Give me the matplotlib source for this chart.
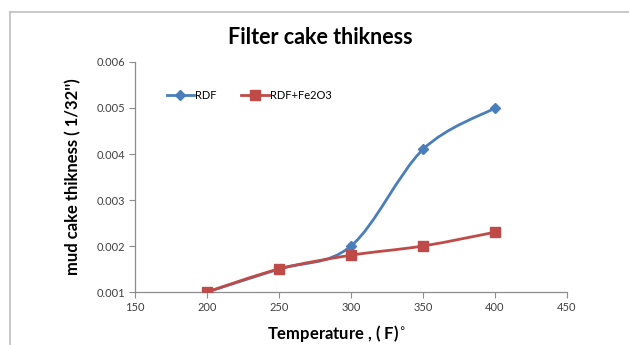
import numpy as np
import matplotlib
matplotlib.use("Agg")
import matplotlib.pyplot as plt
from matplotlib.path import Path
from matplotlib.patches import PathPatch
from matplotlib.lines import Line2D

temperature = [200, 250, 300, 350, 400]
rdf = [0.001, 0.0015, 0.002, 0.0041, 0.005]
rdf_fe2o3 = [0.001, 0.0015, 0.0018, 0.002, 0.0023]

x_ticks = [150, 200, 250, 300, 350, 400, 450]
y_ticks = [0.001, 0.002, 0.003, 0.004, 0.005, 0.006]

plt.rcParams['font.family'] = ['Lato', 'DejaVu Sans']


def smooth_path(xs, ys):
    # Excel-style smoothed line: cubic bezier through the points
    pts = np.column_stack([xs, ys]).astype(float)
    verts = [pts[0]]
    codes = [Path.MOVETO]
    n = len(pts)
    for i in range(n - 1):
        p0 = pts[i - 1] if i > 0 else pts[i]
        p1 = pts[i]
        p2 = pts[i + 1]
        p3 = pts[i + 2] if i + 2 < n else pts[i + 1]
        c1 = p1 + (p2 - p0) / 6.0
        c2 = p2 - (p3 - p1) / 6.0
        verts += [c1, c2, p2]
        codes += [Path.CURVE4] * 3
    return Path(verts, codes)


fig = plt.figure(figsize=(6.29, 3.45), dpi=100)
ax = fig.add_axes([0.2146, 0.1536, 0.6868, 0.6667])

blue = '#4A7EBB'
red = '#BE4B48'

for ys, col, mk, ms in [(rdf, blue, 'D', 5), (rdf_fe2o3, red, 's', 7)]:
    ax.add_patch(PathPatch(smooth_path(temperature, ys), facecolor='none',
                           edgecolor=col, lw=2.0, zorder=2))
    ax.plot(temperature, ys, ls='none', marker=mk, ms=ms, color=col, zorder=3)

# legend handles
h1 = Line2D([], [], color=blue, lw=2.0, marker='D', ms=5)
h2 = Line2D([], [], color=red, lw=2.0, marker='s', ms=7)
ax.legend([h1, h2], ['RDF', 'RDF+Fe2O3'], loc='center left',
          bbox_to_anchor=(0.05, 0.855), ncol=2, frameon=False,
          handlelength=2.5, handletextpad=0.1, columnspacing=2.2,
          fontsize=8)

ax.set_xlim(150, 450)
ax.set_ylim(0.001, 0.006)
ax.set_xticks(x_ticks)
ax.set_yticks(y_ticks)
ax.set_yticklabels([f'{v:.3f}' for v in y_ticks])

for s in ['top', 'right']:
    ax.spines[s].set_visible(False)
for s in ['left', 'bottom']:
    ax.spines[s].set_color('#8C8C8C')
    ax.spines[s].set_linewidth(0.9)
ax.tick_params(direction='out', length=4, color='#8C8C8C', labelsize=8,
               labelcolor='#404040', pad=3)

ax.set_xlabel('Temperature , ( F)$^{\\circ}$', fontsize=12, fontweight='bold', labelpad=7)
ax.xaxis.set_label_coords(0.465, -0.135)
ax.set_ylabel("mud cake thikness ( 1/32'')", fontsize=12, fontweight='bold', labelpad=11)
fig.text(0.51, 0.89, 'Filter cake thikness', ha='center', va='center',
         fontsize=15.5, fontweight='bold')

# chart area border (only left and top visible in the crop)
fig.add_artist(Line2D([0.016, 0.016], [0.0, 0.965], transform=fig.transFigure,
                      color='#BFBFBF', lw=1.2))
fig.add_artist(Line2D([0.016, 1.0], [0.965, 0.965], transform=fig.transFigure,
                      color='#BFBFBF', lw=1.2))

fig.savefig('out.png', dpi=100)
